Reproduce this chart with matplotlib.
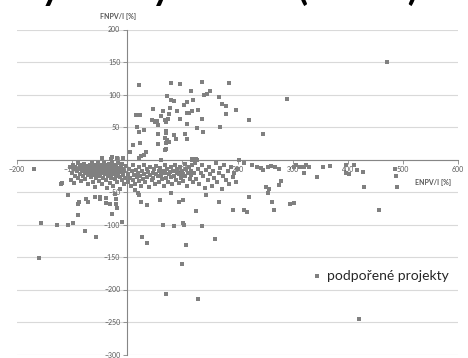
#Scatter of ENPV/I against FNPV/I for supported projects

import numpy as np
import matplotlib.pyplot as plt

#Projects above the x axis
enpv_up = [22, 79, 95, 135, 184, 115, 151, 145, 140, 73, 166, 80, 85, 119, 108, 103, 171, 180, 77, 46,
           64, 90, 128, 118, 108, 112, 75, 74, 15, 23, 62, 95, 135, 45, 50, 54, 51, 68, 70, 56,
           109, 169, 126, 18, 31, 22, 70, 71, 55, 138, 84, 104, 89, 109, 69, 73, 76, 70, 55, 23,
           11, 68, 70, 5, 34, 30, 25, 21, 117, 125, 62, 247, 220, 198, 179, 471, 289, 202, -27, -18,
           -8, -45, -30]
fnpv_up = [114, 117, 116, 120, 117, 106, 105, 101, 99, 97, 96, 92, 90, 91, 88, 84, 85, 82, 80, 77,
           74, 74, 76, 74, 71, 71, 70, 63, 68, 68, 67, 63, 63, 61, 60, 60, 57, 61, 57, 53,
           55, 50, 49, 50, 46, 42, 44, 41, 40, 43, 37, 39, 32, 31, 33, 30, 27, 25, 24, 25,
           22, 15, 16, 12, 12, 7, 6, 3, 1, 1, 0, 40, 61, 76, 70, 150, 93, 0, 4, 3,
           2, 2, 1]

#Projects well below the x axis
enpv_low = [-170, -119, -121, -102, -97, -107, -87, -89, -74, -72, -90, -156, -128, -108, -98, -77, -57, -160, -49, -39,
            -39, -32, -22, -21, -21, -28, -10, -18, -58, -50, 14, 19, 21, 25, 36, 60, 80, 93, 101, 124,
            64, 84, 103, 101, 135, 160, 26, 36, 106, 99, 70, 128, 420, 166, 142, 192, 211, 218, 220, 262,
            266, 295, 302, 251, 258, 256, 279, 275, 345, 429, 456, 486, 488, 489]
fnpv_low = [-14, -36, -38, -32, -36, -55, -65, -69, -60, -65, -86, -97, -101, -100, -98, -110, -119, -152, -60, -59,
            -67, -68, -53, -61, -69, -84, -96, -74, -57, -57, -47, -51, -55, -65, -70, -63, -51, -65, -63, -79,
            -101, -103, -100, -98, -103, -122, -119, -129, -132, -160, -207, -215, -246, -66, -55, -77, -78, -81, -58, -66,
            -77, -68, -67, -43, -46, -52, -33, -39, -27, -43, -77, -14, -25, -43]

#Thin band just under the x axis, right of 200
enpv_right = [211, 226, 236, 243, 247, 255, 260, 268, 275, 302, 307, 314, 320, 324, 329, 320, 356, 367, 397, 396,
              403, 412, 417, 427]
fnpv_right = [-6, -8, -12, -13, -16, -11, -10, -11, -15, -11, -8, -11, -12, -9, -12, -21, -12, -10, -9, -21,
              -23, -9, -16, -19]

#Dense cloud left of the y axis
enpv_left = [-104, -101, -99, -97, -95, -94, -92, -90, -89, -88, -86, -85, -84, -82, -81, -80, -78, -77, -76, -75,
             -73, -72, -71, -70, -68, -67, -66, -65, -64, -63, -62, -61, -60, -59, -58, -57, -56, -55, -54, -53,
             -52, -51, -50, -49, -48, -47, -46, -45, -44, -43, -42, -41, -40, -39, -38, -37, -36, -35, -34, -33,
             -32, -31, -30, -29, -28, -27, -26, -25, -24, -23, -22, -21, -20, -19, -18, -17, -16, -15, -14, -13,
             -12, -11, -10, -9, -8, -7, -6, -5, -4, -3]
fnpv_left = [-12, -20, -8, -15, -25, -11, -18, -6, -28, -14, -22, -9, -33, -17, -26, -12, -7, -20, -30, -15,
             -10, -24, -38, -18, -8, -13, -27, -21, -5, -34, -16, -11, -24, -19, -42, -9, -29, -14, -22, -6,
             -17, -33, -11, -25, -20, -8, -38, -15, -28, -12, -5, -22, -18, -31, -9, -44, -14, -25, -20, -7,
             -36, -12, -17, -28, -4, -22, -10, -40, -15, -30, -19, -8, -25, -13, -34, -6, -21, -16, -45, -27,
             -11, -19, -32, -7, -24, -14, -38, -18, -28, -10]

#Dense cloud right of the y axis
enpv_mid = [1, 2, 4, 5, 7, 8, 10, 11, 13, 14, 16, 17, 19, 21, 22, 24, 25, 27, 28, 30,
            31, 33, 35, 36, 38, 39, 41, 42, 44, 46, 47, 49, 50, 52, 53, 55, 57, 58, 60, 61,
            63, 64, 66, 68, 69, 71, 72, 74, 75, 77, 79, 80, 82, 83, 85, 86, 88, 90, 91, 93,
            94, 96, 97, 99, 101, 102, 104, 105, 107, 108, 110, 112, 113, 115, 116, 118, 119, 121, 122, 125,
            128, 131, 133, 136, 138, 141, 143, 146, 148, 151, 153, 156, 158, 161, 163, 166, 168, 171, 174, 176,
            179, 182, 185, 188, 191, 194, 197, 200, 118, 127]
fnpv_mid = [-22, -35, -14, -28, -41, -18, -9, -31, -24, -38, -16, -27, -20, -33, -12, -25, -40, -18, -30, -22,
            -8, -35, -15, -27, -19, -42, -24, -11, -32, -20, -28, -15, -37, -22, -10, -26, -18, -34, -13, -24,
            -30, -17, -40, -21, -9, -28, -15, -34, -23, -19, -12, -27, -38, -17, -25, -8, -31, -20, -14, -36,
            -23, -11, -28, -18, -33, -22, -7, -26, -15, -40, -20, -12, -30, -24, -17, -9, -35, -21, -5, -30,
            -14, -38, -20, -8, -26, -44, -16, -32, -11, -22, -40, -17, -28, -6, -35, -20, -13, -45, -25, -9,
            -31, -18, -38, -12, -27, -21, -34, -15, -1, -1]

enpv = enpv_up + enpv_low + enpv_right + enpv_left + enpv_mid
fnpv = fnpv_up + fnpv_low + fnpv_right + fnpv_left + fnpv_mid

x_ticks = np.arange(-200, 601, 100)
y_ticks = np.arange(-300, 201, 50)

plt.rcParams['font.family'] = ['Lato', 'DejaVu Sans']

fig = plt.figure(figsize=(4.68, 3.58), dpi=100)
ax = fig.add_axes([17/468, 3.5/358, 441/468, 325/358])

ax.scatter(enpv, fnpv, marker='s', s=5, color='#808080', linewidths=0, label='podpořené projekty', zorder=3)

ax.set_xlim(-200, 600)
ax.set_ylim(-300, 200)
ax.set_xticks(x_ticks)
ax.set_yticks(y_ticks)

#Axes cross at the origin like in the original
for side in ['top', 'right']:
    ax.spines[side].set_visible(False)
for side in ['left', 'bottom']:
    ax.spines[side].set_position(('data', 0))
    ax.spines[side].set_color('#868686')
    ax.spines[side].set_linewidth(0.8)

ax.tick_params(labelsize=5, labelcolor='#595959', color='#868686', length=3, width=0.6, pad=2)
ax.grid(axis='y', color='#d9d9d9', linewidth=0.8)
ax.set_axisbelow(True)

fig.text(118/468, 1 - 16/358, 'FNPV/I [%]', fontsize=5, fontweight='bold', color='#595959', ha='center', va='center')
fig.text(433/468, 1 - 182/358, 'ENPV/I [%]', fontsize=5, fontweight='bold', color='#595959', ha='center', va='center')

#Big slide title, mostly cut off at the top edge
fig.text(-87/468, 1.0, 'Hodnoty i zisky metod (ENPV)', fontsize=27, fontweight='bold', color='black', ha='left', va='baseline')

ax.legend(loc='center left', bbox_to_anchor=(298/468, 1 - 276/358), bbox_transform=fig.transFigure,
          frameon=False, fontsize=10, handletextpad=0.2, handlelength=1, labelcolor='#262626')

fig.savefig('out.png', dpi=100)
